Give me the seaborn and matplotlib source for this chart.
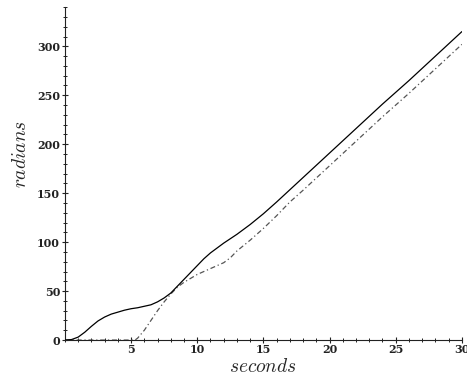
import matplotlib
matplotlib.use("Agg")
import matplotlib.pyplot as plt
from matplotlib.ticker import MultipleLocator, FixedLocator
import pandas as pd
import seaborn as sns

# angular position of the two shafts over time
t_solid = [0, 0.5, 1, 1.5, 2, 2.5, 3, 3.5, 4, 4.5, 5, 5.5, 6, 6.5, 7, 7.5,
           8, 8.5, 9, 9.5, 10, 10.5, 11, 11.5, 12, 13, 14, 15, 16, 18, 20,
           22, 24, 26, 28, 30]
rad_solid = [0, 0.5, 3, 8, 14, 19.5, 23.5, 26.5, 28.5, 30.5, 32, 33, 34.5,
             36, 39, 43, 48, 55, 62, 69, 76, 83, 89, 94, 99, 108, 118, 129,
             141, 166, 191, 216, 241, 265, 290, 315]

t_dash = [0, 5, 5.3, 5.5, 6, 6.5, 7, 7.5, 8, 8.5, 9, 9.5, 10, 11, 12, 12.5,
          13, 14, 15, 16, 17, 18, 20, 22, 24, 26, 28, 30]
rad_dash = [0, 0, 0, 2, 10, 20, 30, 39, 47, 54, 59, 63, 67, 73, 79, 84, 91,
            102, 114, 127, 141, 153, 178, 203, 228, 252, 277, 302]

y_ticks = [0, 50, 100, 150, 200, 250, 300]
x_ticks = [5, 10, 15, 20, 25, 30]

sns.set_style("ticks")
plt.rcParams["mathtext.fontset"] = "cm"

fig = plt.figure(figsize=(4.67, 3.77), dpi=100)
ax = fig.add_axes([0.139, 0.098, 0.850, 0.883])

df_solid = pd.DataFrame({"t": t_solid, "rad": rad_solid})
df_dash = pd.DataFrame({"t": t_dash, "rad": rad_dash})

sns.lineplot(data=df_dash, x="t", y="rad", ax=ax, color="#555555",
             linewidth=0.9, linestyle=(0, (4, 2.2, 1, 2.2)), zorder=2)
sns.lineplot(data=df_solid, x="t", y="rad", ax=ax, color="black",
             linewidth=0.9, zorder=3)

ax.set_xlim(0, 30)
ax.set_ylim(0, 340)
sns.despine(ax=ax)
for side in ("left", "bottom"):
    ax.spines[side].set_linewidth(0.8)
    ax.spines[side].set_color("#222222")

ax.xaxis.set_major_locator(FixedLocator(x_ticks))
ax.xaxis.set_minor_locator(MultipleLocator(1))
ax.yaxis.set_major_locator(FixedLocator(y_ticks))
ax.yaxis.set_minor_locator(MultipleLocator(10))
ax.tick_params(which="major", direction="inout", length=5, width=0.8,
               color="#222222")
ax.tick_params(which="minor", direction="inout", length=3, width=0.7,
               color="#222222")
ax.tick_params(axis="x", which="major", pad=0)
ax.tick_params(axis="y", which="major", pad=1)

ax.set_xticklabels([str(v) for v in x_ticks])
ax.set_yticklabels([str(v) for v in y_ticks])
for lbl in ax.get_xticklabels() + ax.get_yticklabels():
    lbl.set_family("DejaVu Serif")
    lbl.set_fontsize(8)
    lbl.set_fontweight("bold")
    lbl.set_color("#222222")

ax.set_xlabel(r"$seconds$", fontsize=14)
ax.set_ylabel(r"$radians$", fontsize=14)
ax.xaxis.set_label_coords(0.5, -0.05)
ax.yaxis.set_label_coords(-0.088, 0.56)

fig.savefig("out.png", dpi=100)
